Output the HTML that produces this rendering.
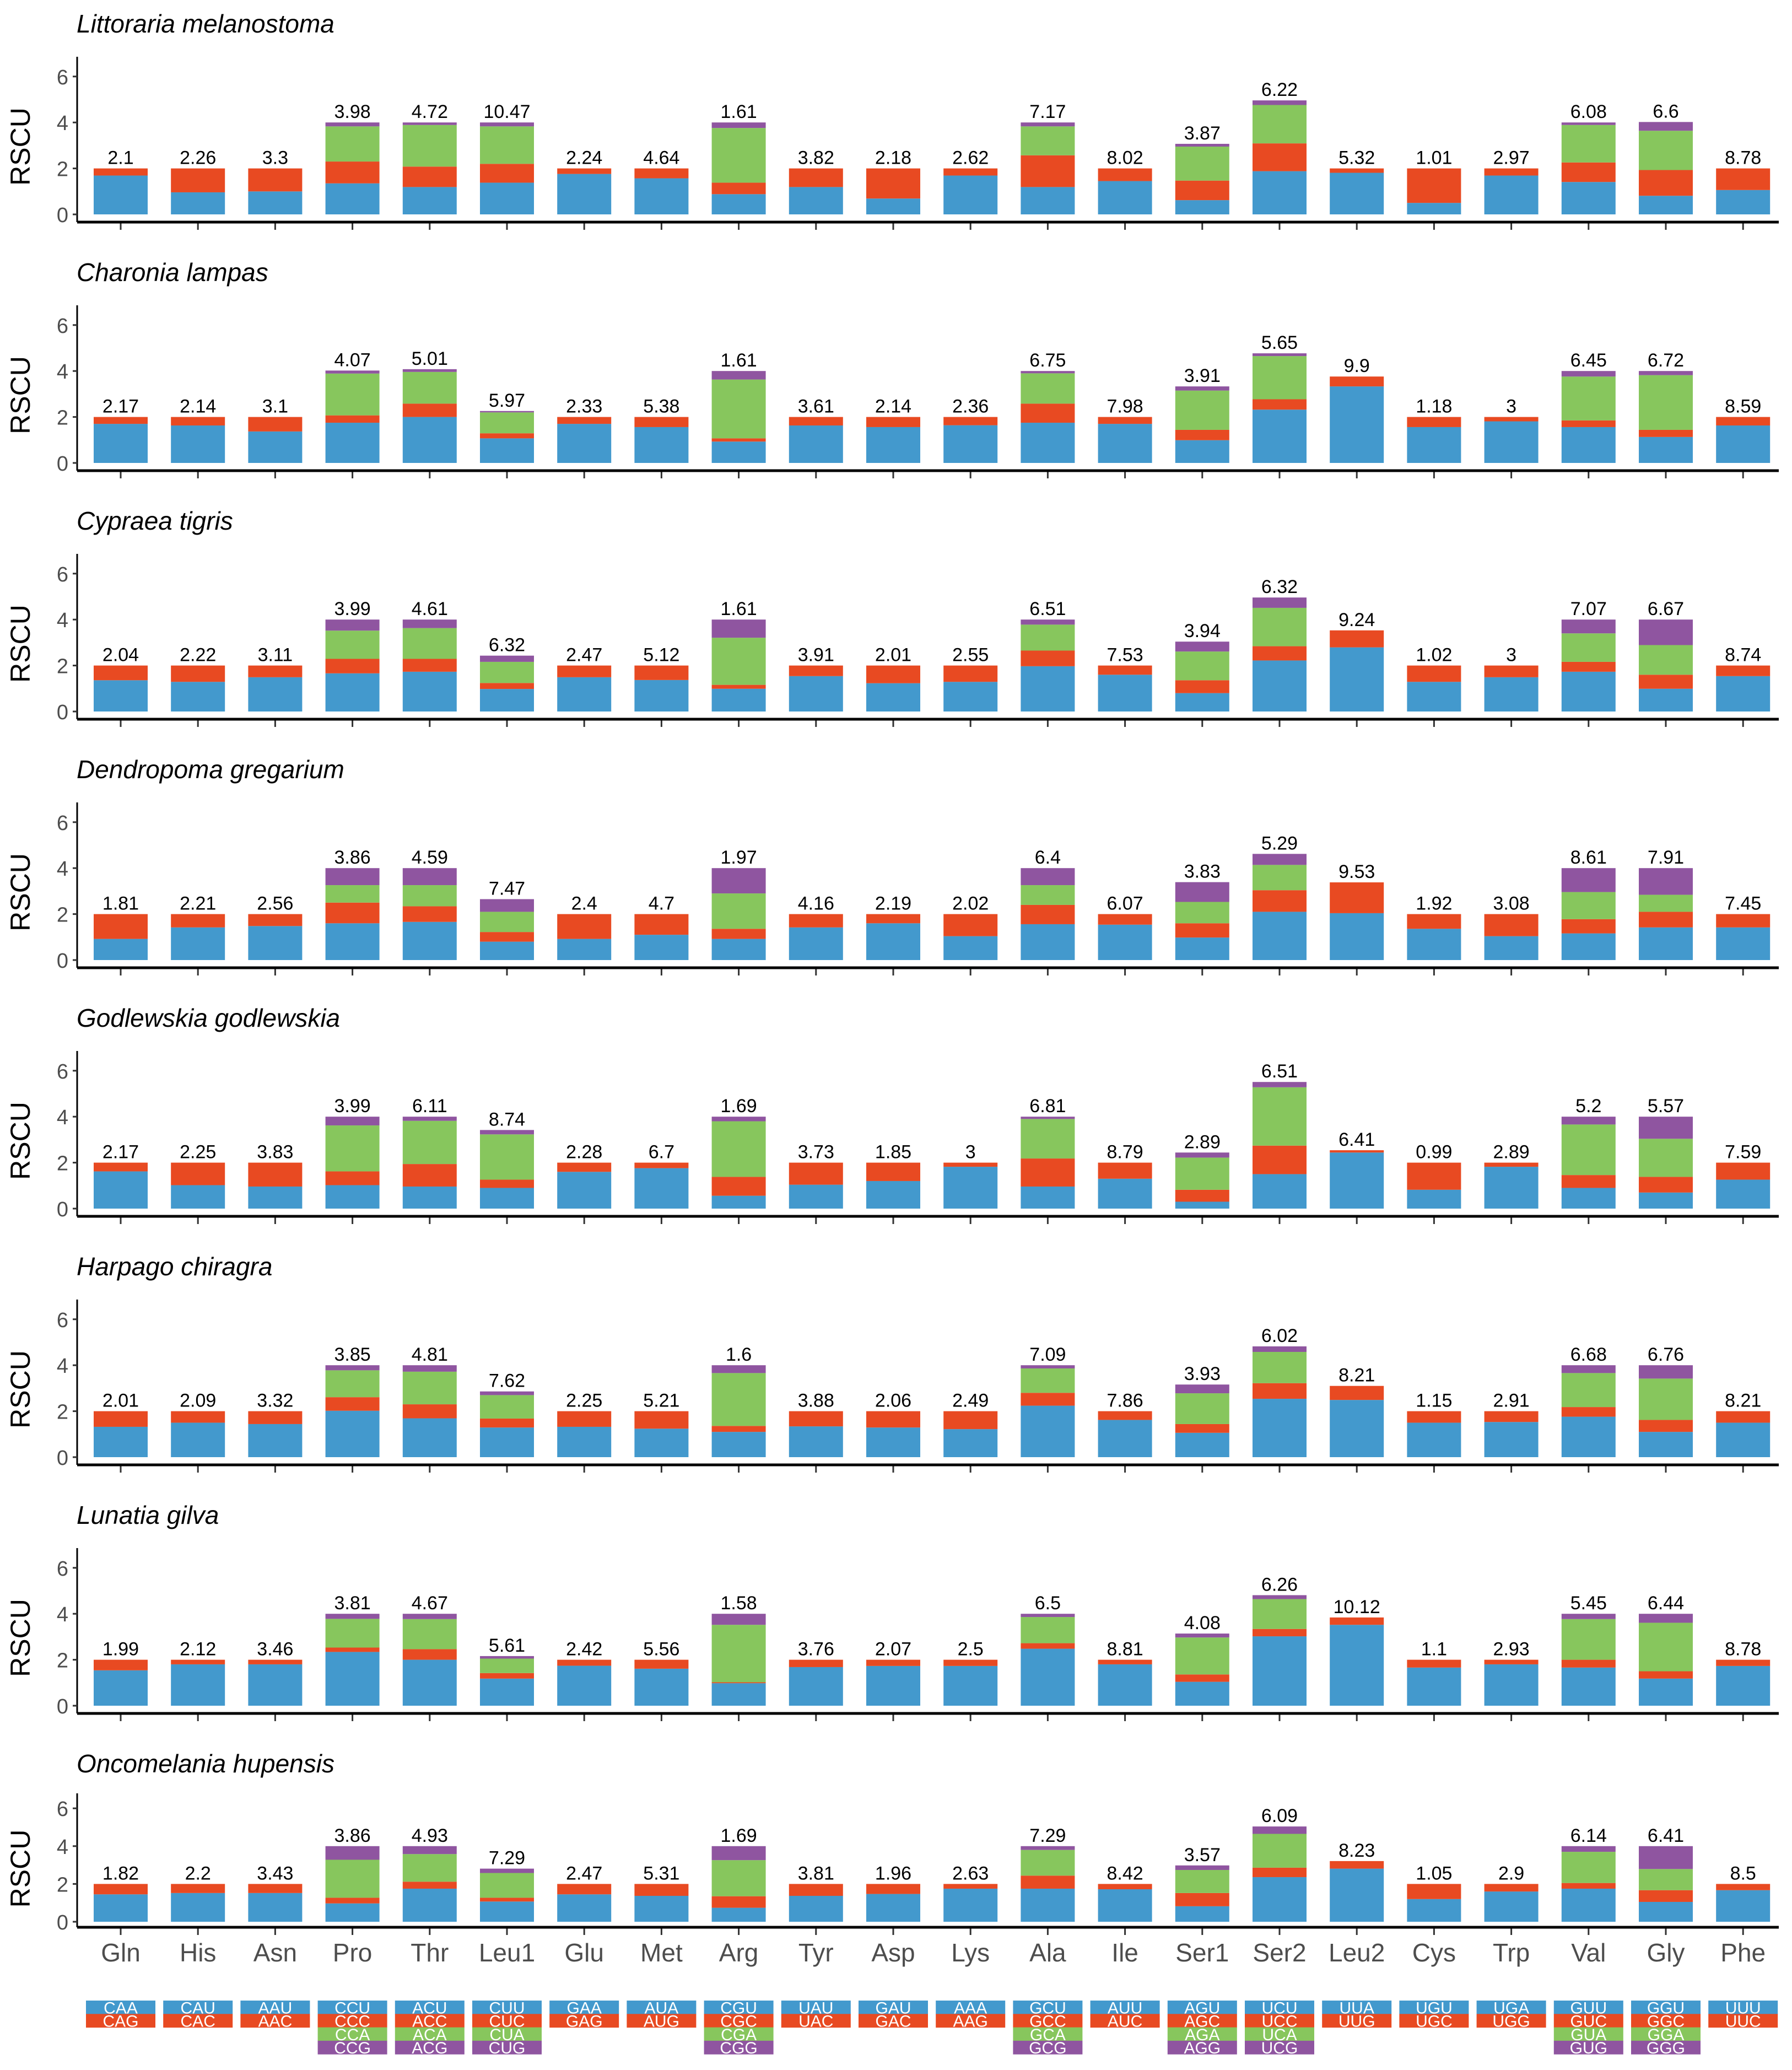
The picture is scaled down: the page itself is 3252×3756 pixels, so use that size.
<!DOCTYPE html>
<html>
<head>
<meta charset="utf-8">
<style>
  html,body{margin:0;padding:0;background:#fff;}
  svg{display:block;}
</style>
</head>
<body>
<svg id="chart" width="3252" height="3756" viewBox="0 0 3252 3756" xmlns="http://www.w3.org/2000/svg"></svg>
<script>
const species = ["Littoraria melanostoma","Charonia lampas","Cypraea tigris","Dendropoma gregarium","Godlewskia godlewskia","Harpago chiragra","Lunatia gilva","Oncomelania hupensis"];
const aminoAcids = ["Gln","His","Asn","Pro","Thr","Leu1","Glu","Met","Arg","Tyr","Asp","Lys","Ala","Ile","Ser1","Ser2","Leu2","Cys","Trp","Val","Gly","Phe"];
const codons = [["CAA","CAG"],["CAU","CAC"],["AAU","AAC"],["CCU","CCC","CCA","CCG"],["ACU","ACC","ACA","ACG"],["CUU","CUC","CUA","CUG"],["GAA","GAG"],["AUA","AUG"],["CGU","CGC","CGA","CGG"],["UAU","UAC"],["GAU","GAC"],["AAA","AAG"],["GCU","GCC","GCA","GCG"],["AUU","AUC"],["AGU","AGC","AGA","AGG"],["UCU","UCC","UCA","UCG"],["UUA","UUG"],["UGU","UGC"],["UGA","UGG"],["GUU","GUC","GUA","GUG"],["GGU","GGC","GGA","GGG"],["UUU","UUC"]];
const yTicks = [0,2,4,6];

const rscu1 = [[1.69,0.31],[0.96,1.04],[1.0,1.0],[1.35,0.95,1.53,0.17],[1.19,0.89,1.81,0.11],[1.38,0.82,1.63,0.17],[1.76,0.24],[1.57,0.43],[0.88,0.5,2.38,0.24],[1.19,0.81],[0.69,1.31],[1.69,0.31],[1.19,1.38,1.26,0.17],[1.45,0.55],[0.62,0.85,1.48,0.12],[1.88,1.21,1.67,0.2],[1.81,0.19],[0.5,1.5],[1.69,0.31],[1.41,0.85,1.63,0.11],[0.81,1.12,1.71,0.38],[1.06,0.94]];
const rscu2 = [[1.7,0.3],[1.63,0.37],[1.37,0.63],[1.75,0.32,1.82,0.13],[2.0,0.58,1.38,0.12],[1.07,0.22,0.91,0.06],[1.7,0.3],[1.56,0.44],[0.93,0.14,2.56,0.37],[1.63,0.37],[1.56,0.44],[1.64,0.36],[1.75,0.83,1.32,0.1],[1.7,0.3],[0.99,0.45,1.71,0.18],[2.32,0.45,1.88,0.12],[3.33,0.43],[1.56,0.44],[1.81,0.19],[1.56,0.29,1.91,0.24],[1.13,0.31,2.38,0.18],[1.63,0.37]];
const rscu3 = [[1.36,0.64],[1.29,0.71],[1.49,0.51],[1.66,0.63,1.23,0.48],[1.73,0.56,1.34,0.37],[0.98,0.26,0.92,0.27],[1.49,0.51],[1.37,0.63],[0.99,0.17,2.05,0.79],[1.54,0.46],[1.23,0.77],[1.29,0.71],[1.97,0.68,1.13,0.22],[1.6,0.4],[0.8,0.56,1.25,0.43],[2.22,0.62,1.67,0.45],[2.79,0.74],[1.29,0.71],[1.49,0.51],[1.73,0.43,1.24,0.6],[0.99,0.61,1.29,1.11],[1.54,0.46]];
const rscu4 = [[0.92,1.08],[1.42,0.58],[1.48,0.52],[1.6,0.9,0.76,0.74],[1.66,0.68,0.92,0.74],[0.8,0.42,0.88,0.55],[0.92,1.08],[1.1,0.9],[0.92,0.44,1.54,1.1],[1.42,0.58],[1.6,0.4],[1.04,0.96],[1.56,0.84,0.86,0.74],[1.54,0.46],[0.98,0.62,0.93,0.86],[2.1,0.94,1.1,0.48],[2.04,1.34],[1.36,0.64],[1.04,0.96],[1.16,0.62,1.18,1.04],[1.42,0.68,0.74,1.16],[1.42,0.58]];
const rscu5 = [[1.62,0.38],[1.02,0.98],[0.96,1.04],[1.02,0.6,2.0,0.38],[0.96,0.98,1.88,0.18],[0.9,0.36,1.97,0.19],[1.6,0.4],[1.76,0.24],[0.56,0.82,2.42,0.2],[1.04,0.96],[1.2,0.8],[1.82,0.18],[0.96,1.22,1.72,0.1],[1.3,0.7],[0.3,0.52,1.4,0.22],[1.5,1.24,2.54,0.23],[2.44,0.1],[0.82,1.18],[1.82,0.18],[0.9,0.56,2.2,0.34],[0.7,0.68,1.66,0.96],[1.26,0.74]];
const rscu6 = [[1.32,0.68],[1.5,0.5],[1.44,0.56],[2.02,0.59,1.17,0.22],[1.69,0.61,1.42,0.28],[1.29,0.39,1.02,0.16],[1.32,0.68],[1.24,0.76],[1.1,0.26,2.3,0.34],[1.34,0.66],[1.29,0.71],[1.22,0.78],[2.24,0.56,1.06,0.14],[1.62,0.38],[1.06,0.38,1.34,0.38],[2.54,0.68,1.36,0.24],[2.49,0.61],[1.5,0.5],[1.53,0.47],[1.76,0.42,1.48,0.34],[1.1,0.52,1.8,0.58],[1.5,0.5]];
const rscu7 = [[1.54,0.46],[1.8,0.2],[1.8,0.2],[2.34,0.19,1.25,0.22],[2.0,0.46,1.31,0.23],[1.18,0.24,0.63,0.11],[1.74,0.26],[1.61,0.39],[0.98,0.04,2.5,0.48],[1.68,0.32],[1.73,0.27],[1.73,0.27],[2.48,0.24,1.14,0.14],[1.8,0.2],[1.04,0.32,1.61,0.17],[3.02,0.32,1.3,0.17],[3.52,0.32],[1.66,0.34],[1.8,0.2],[1.66,0.34,1.77,0.23],[1.18,0.32,2.11,0.39],[1.73,0.27]];
const rscu8 = [[1.45,0.55],[1.52,0.48],[1.52,0.48],[0.97,0.3,2.01,0.72],[1.75,0.37,1.46,0.42],[1.07,0.2,1.31,0.23],[1.45,0.55],[1.37,0.63],[0.74,0.61,1.91,0.74],[1.37,0.63],[1.47,0.53],[1.75,0.25],[1.75,0.69,1.36,0.2],[1.72,0.28],[0.82,0.7,1.22,0.24],[2.36,0.5,1.79,0.39],[2.81,0.4],[1.2,0.8],[1.6,0.4],[1.75,0.3,1.65,0.3],[1.05,0.62,1.12,1.21],[1.67,0.33]];

const labels1 = ["2.1","2.26","3.3","3.98","4.72","10.47","2.24","4.64","1.61","3.82","2.18","2.62","7.17","8.02","3.87","6.22","5.32","1.01","2.97","6.08","6.6","8.78"];
const labels2 = ["2.17","2.14","3.1","4.07","5.01","5.97","2.33","5.38","1.61","3.61","2.14","2.36","6.75","7.98","3.91","5.65","9.9","1.18","3","6.45","6.72","8.59"];
const labels3 = ["2.04","2.22","3.11","3.99","4.61","6.32","2.47","5.12","1.61","3.91","2.01","2.55","6.51","7.53","3.94","6.32","9.24","1.02","3","7.07","6.67","8.74"];
const labels4 = ["1.81","2.21","2.56","3.86","4.59","7.47","2.4","4.7","1.97","4.16","2.19","2.02","6.4","6.07","3.83","5.29","9.53","1.92","3.08","8.61","7.91","7.45"];
const labels5 = ["2.17","2.25","3.83","3.99","6.11","8.74","2.28","6.7","1.69","3.73","1.85","3","6.81","8.79","2.89","6.51","6.41","0.99","2.89","5.2","5.57","7.59"];
const labels6 = ["2.01","2.09","3.32","3.85","4.81","7.62","2.25","5.21","1.6","3.88","2.06","2.49","7.09","7.86","3.93","6.02","8.21","1.15","2.91","6.68","6.76","8.21"];
const labels7 = ["1.99","2.12","3.46","3.81","4.67","5.61","2.42","5.56","1.58","3.76","2.07","2.5","6.5","8.81","4.08","6.26","10.12","1.1","2.93","5.45","6.44","8.78"];
const labels8 = ["1.82","2.2","3.43","3.86","4.93","7.29","2.47","5.31","1.69","3.81","1.96","2.63","7.29","8.42","3.57","6.09","8.23","1.05","2.9","6.14","6.41","8.5"];

const allRscu = [rscu1,rscu2,rscu3,rscu4,rscu5,rscu6,rscu7,rscu8];
const allLabels = [labels1,labels2,labels3,labels4,labels5,labels6,labels7,labels8];
const colors = ["#4399cd","#e84a22","#87c65d","#8f55a0"];

const NS = "http://www.w3.org/2000/svg";
const svg = document.getElementById("chart");
function mk(tag, attrs, parent){
  const e = document.createElementNS(NS, tag);
  for (const k in attrs) e.setAttribute(k, attrs[k]);
  (parent||svg).appendChild(e);
  return e;
}
const FONT = '"Liberation Sans", Arial, sans-serif';
const axisLeft = 140, axisRight = 3228;
function xCenter(i){ return 219 + i * 140.2; }
const barW = 98;

for (let p = 0; p < species.length; p++) {
  const last = p === species.length - 1;
  const off = p * 451;
  const top = last ? 3254 : 103 + off;
  const zero = last ? 3487 : 389 + off;
  const unit = last ? 34.3 : 41.7;
  const xLine = last ? 3497 : 403 + off;
  const yScale = v => zero - v * unit;

  const g = mk("g", {});
  
  

  const t = mk("text", {x:139, y: 43 + off + 16, "font-family":FONT, "font-size":46, "font-style":"italic", fill:"#000"}, g);
  t.textContent = species[p];
  
  

  const yl = mk("text", {x:0, y:0, "font-family":FONT, "font-size":50, fill:"#000", "text-anchor":"middle", transform:`translate(54,${(zero+top)/2+20}) rotate(-90)`}, g);
  yl.textContent = "RSCU";
  
  

  const ya = mk("line", {x1:axisLeft, x2:axisLeft, y1:top, y2:xLine, stroke:"#000", "stroke-width":3}, g);
  
  

  for (const tv of yTicks) {
    const ty = yScale(tv);
    const tk = mk("line", {x1:axisLeft-8, x2:axisLeft, y1:ty, y2:ty, stroke:"#333", "stroke-width":3}, g);
    
    
    const tl = mk("text", {x:axisLeft-16, y:ty+14, "font-family":FONT, "font-size":38, fill:"#4d4d4d", "text-anchor":"end"}, g);
    tl.textContent = tv;
    
    
  }

  const data = allRscu[p];
  const labs = allLabels[p];
  for (let i = 0; i < aminoAcids.length; i++) {
    const cx = xCenter(i);
    let cum = 0;
    const segs = data[i];
    for (let s = 0; s < segs.length; s++) {
      const y0 = yScale(cum), y1 = yScale(cum + segs[s]);
      const r = mk("rect", {x:cx-barW/2, y:y1, width:barW, height:Math.max(0,y0-y1), fill:colors[s]}, g);
      
      
      cum += segs[s];
    }
    const vl = mk("text", {x:cx, y:yScale(cum)-8, "font-family":FONT, "font-size":34, fill:"#000", "text-anchor":"middle"}, g);
    vl.textContent = labs[i];
    
    

    const xt = mk("line", {x1:cx, x2:cx, y1:xLine, y2:xLine+14, stroke:"#333", "stroke-width":3}, g);
    
    
  }

  const xa = mk("line", {x1:axisLeft, x2:axisRight, y1:xLine, y2:xLine, stroke:"#000", "stroke-width":5}, g);
  
  

  if (last) {
    for (let i = 0; i < aminoAcids.length; i++) {
      const xl = mk("text", {x:xCenter(i), y:3559, "font-family":FONT, "font-size":46, fill:"#4d4d4d", "text-anchor":"middle"}, g);
      xl.textContent = aminoAcids[i];
      
      
    }
  }
}

// codon legend
const legendTop = 3630, rowH = 24.3, boxW = 126;
const lg = mk("g", {});


for (let i = 0; i < codons.length; i++) {
  const cx = xCenter(i);
  for (let s = 0; s < codons[i].length; s++) {
    const y = legendTop + s * rowH;
    const r = mk("rect", {x:cx-boxW/2, y:y, width:boxW, height:rowH+0.5, fill:colors[s]}, lg);
    
    
    const tx = mk("text", {x:cx, y:y+rowH-1, "font-family":FONT, "font-size":30, fill:"#fff", "text-anchor":"middle"}, lg);
    tx.textContent = codons[i][s];
    
    
  }
}
</script>
</body>
</html>
